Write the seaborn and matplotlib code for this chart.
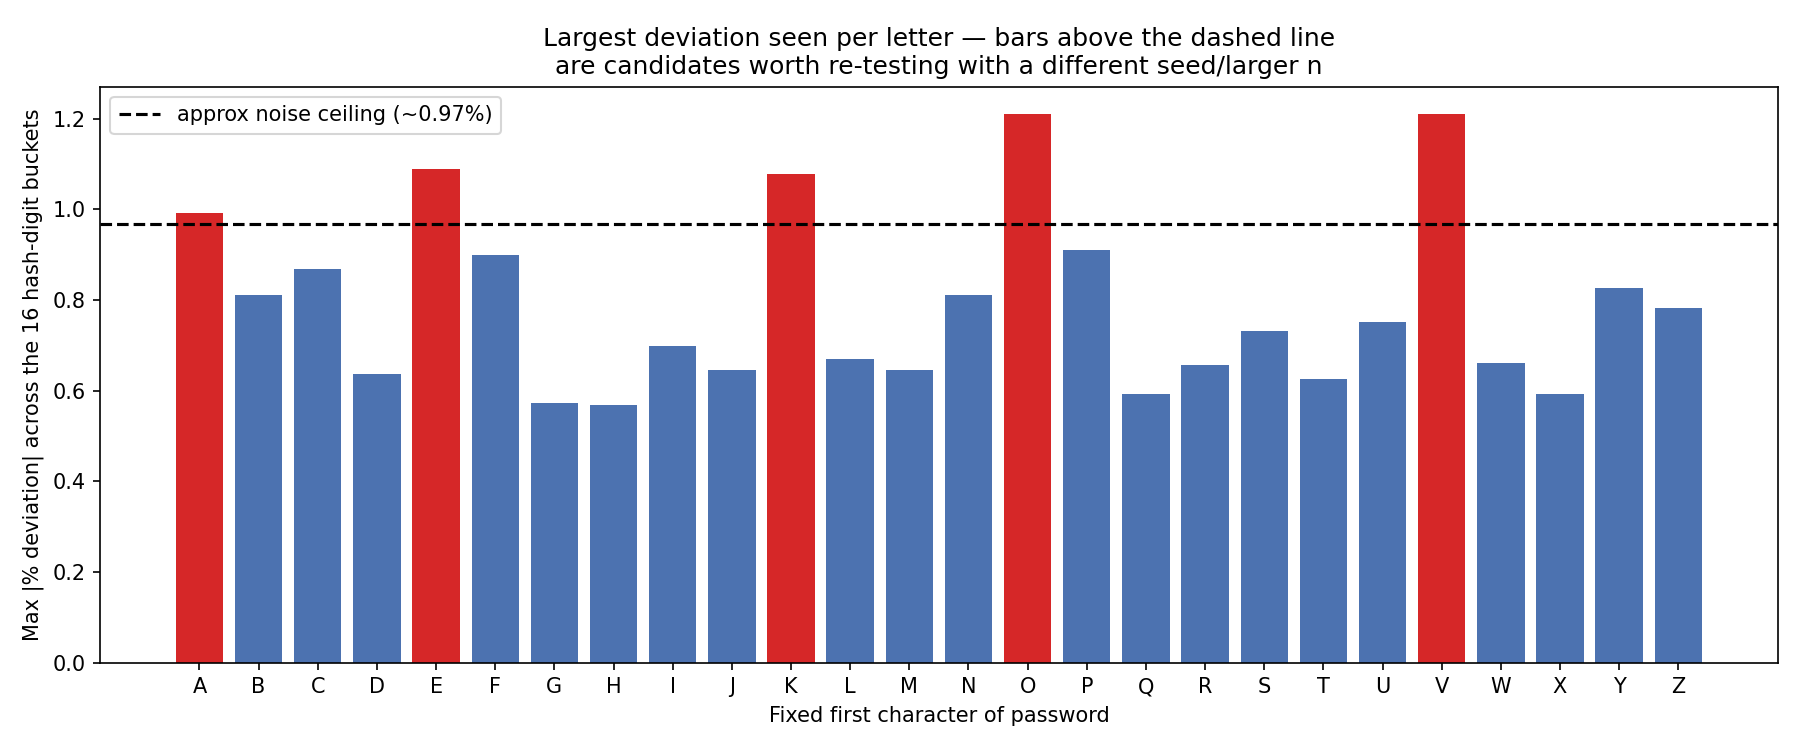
import matplotlib
matplotlib.use("Agg")
import matplotlib.pyplot as plt
import seaborn as sns
import pandas as pd

letters = list("ABCDEFGHIJKLMNOPQRSTUVWXYZ")
max_dev = [0.992, 0.81, 0.868, 0.637, 1.09, 0.90, 0.573, 0.568, 0.698, 0.645,
           1.077, 0.67, 0.645, 0.81, 1.21, 0.91, 0.592, 0.657, 0.731, 0.625,
           0.752, 1.21, 0.66, 0.592, 0.827, 0.782]
noise_ceiling = 0.967

blue = "#4c72b0"
red = "#d62728"

df = pd.DataFrame({"letter": letters, "dev": max_dev})
colors = {l: (red if v > noise_ceiling else blue) for l, v in zip(letters, max_dev)}

fig, ax = plt.subplots(figsize=(12, 5), dpi=150)
sns.barplot(data=df, x="letter", y="dev", hue="letter", palette=colors,
            legend=False, ax=ax, width=0.8, saturation=1)
ax.axhline(noise_ceiling, color="black", linestyle="--", linewidth=1.5,
           label="approx noise ceiling (~0.97%)")
ax.legend(loc="upper left")
ax.set_xlim(-1.68, 26.68)
ax.set_xlabel("Fixed first character of password")
ax.set_ylabel("Max |% deviation| across the 16 hash-digit buckets")
ax.set_title("Largest deviation seen per letter \u2014 bars above the dashed line\n"
             "are candidates worth re-testing with a different seed/larger n")
fig.subplots_adjust(left=0.0556, right=0.9876, top=0.8844, bottom=0.1164)
fig.savefig("out.png")
